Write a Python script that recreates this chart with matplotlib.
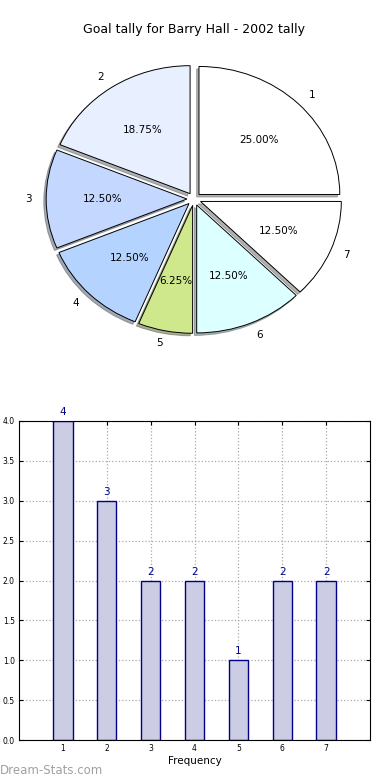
import matplotlib
matplotlib.use("Agg")
import matplotlib.pyplot as plt

labels = ['1', '2', '3', '4', '5', '6', '7']
counts = [4, 3, 2, 2, 1, 2, 2]
slice_colors = ['#ffffff', '#e8f0ff', '#c4d8ff', '#b4d4ff', '#d0e88c', '#dcffff', '#ffffff']
explode = [0.05] * 7
title = 'Goal tally for Barry Hall - 2002 tally'

fig = plt.figure(figsize=(3.9, 7.8), dpi=100)

# Pie
axp = fig.add_axes([18/390, (780-359)/780, 352/390, 320/780])
wedges, texts, autotexts = axp.pie(counts, labels=labels, colors=slice_colors, explode=explode,
                                   shadow=dict(ox=-0.012, oy=-0.014, shade=0.6),
                                   autopct='%1.2f%%', startangle=0,
                                   wedgeprops=dict(edgecolor='black', linewidth=0.7),
                                   textprops=dict(fontsize=7.5))
axp.set_aspect('auto')
axp.set_xlim(-1.25, 1.25)
axp.set_ylim(-1.25, 1.25)
axp.axis('off')
fig.text(194/390, 1 - 30/780, title, ha='center', va='center', fontsize=9)

# Bars
axb = fig.add_axes([19/390, 40/780, 351/390, 319/780])
x = list(range(1, len(counts) + 1))
bars = axb.bar(x, counts, width=0.44, color='#ccccE4', edgecolor='#000088', linewidth=1.0, zorder=2)
for xi, c in zip(x, counts):
    axb.text(xi, c + 0.05, str(c), ha='center', va='bottom', fontsize=7.5, color='#000088')
axb.set_xlim(0, 8)
axb.set_ylim(0, 4)
axb.set_xticks(x)
axb.set_xticklabels(labels)
axb.set_yticks([0, 0.5, 1.0, 1.5, 2.0, 2.5, 3.0, 3.5, 4.0])
axb.set_yticklabels(['0.0', '0.5', '1.0', '1.5', '2.0', '2.5', '3.0', '3.5', '4.0'])
axb.tick_params(labelsize=5.5, direction='in', top=True, right=True, length=3, pad=3)
axb.grid(True, linestyle=':', color='#aaaaaa', linewidth=0.9, zorder=3)
axb.set_xlabel('Frequency', fontsize=7.5, labelpad=2)
for s in axb.spines.values():
    s.set_linewidth(0.8)
fig.text(0, 1 - 771/780, 'Dream-Stats.com', ha='left', va='center', fontsize=8.5, color='#a0a0a0')

fig.savefig('out.png', dpi=100)
